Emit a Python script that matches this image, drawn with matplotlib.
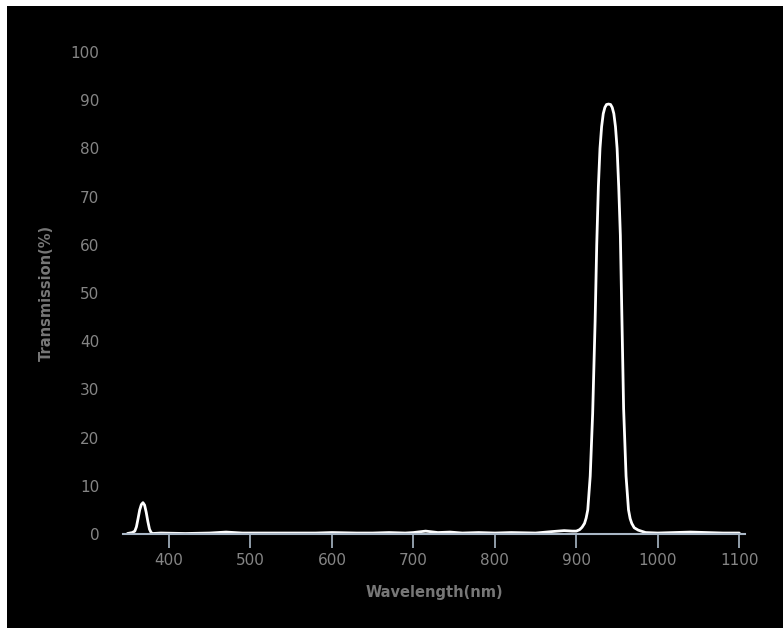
import matplotlib
matplotlib.use('Agg')
from matplotlib import pyplot as plt
from matplotlib.patches import Rectangle

# 透过率曲线数据
wavelength = [349, 355, 358, 360, 362, 364, 366, 368, 370, 372, 374, 376, 378, 380,
              390, 420, 450, 470, 490, 520, 550, 580, 600, 630, 650, 670, 690, 700,
              715, 730, 745, 760, 780, 800, 820, 850, 870, 885, 895, 900, 904, 907,
              910, 912, 914, 917, 920, 923, 925, 927, 929, 931, 933, 935, 937, 939.5,
              942, 944, 946, 948, 950, 952, 954, 956, 958, 961, 964, 966, 968, 971,
              976, 985, 1000, 1020, 1040, 1060, 1080, 1100]
transmission = [0.1, 0.3, 0.6, 1.5, 3.2, 5.0, 6.1, 6.5, 6.0, 4.5, 2.6, 1.0, 0.3, 0.1,
                0.2, 0.1, 0.2, 0.4, 0.2, 0.2, 0.2, 0.2, 0.3, 0.2, 0.2, 0.3, 0.2, 0.3,
                0.6, 0.3, 0.4, 0.2, 0.3, 0.2, 0.3, 0.2, 0.5, 0.7, 0.6, 0.6, 0.9, 1.4,
                2.2, 3.3, 5.0, 12.0, 25.0, 44.0, 60.0, 72.0, 80.0, 84.5, 87.2, 88.5, 89.1, 89.2,
                89.1, 88.5, 87.2, 84.5, 80.0, 72.0, 62.0, 44.0, 26.0, 12.0, 5.0, 3.2, 2.2, 1.3,
                0.8, 0.3, 0.2, 0.3, 0.4, 0.3, 0.2, 0.2]
xticks = [400, 500, 600, 700, 800, 900, 1000, 1100]
yticks = [0, 10, 20, 30, 40, 50, 60, 70, 80, 90, 100]

W, H = 783, 628
fig = plt.figure(figsize=(W / 100, H / 100), dpi=100, facecolor='white')
# 黑色背景区域（放在坐标轴下面）
fig.patches.append(Rectangle((7 / W, 0), 1 - 7 / W, 1 - 6 / H, transform=fig.transFigure,
                             facecolor='black', edgecolor='none', zorder=-10))

ax = fig.add_axes([123 / W, (H - 534) / H, (745 - 123) / W, (534 - 52) / H])
ax.set_facecolor('black')
ax.plot(wavelength, transmission, color='white', linewidth=2.0, clip_on=False,
        solid_joinstyle='round', solid_capstyle='round')

ax.set_xlim(343.5, 1107)
ax.set_ylim(0, 100)
ax.set_xticks(xticks)
ax.set_yticks(yticks)

for s in ['top', 'right', 'left']:
    ax.spines[s].set_visible(False)
ax.spines['bottom'].set_color('#a9b7c6')
ax.spines['bottom'].set_linewidth(1.5)

ax.tick_params(axis='x', colors='#858585', length=10, width=1.2, labelsize=11,
               pad=4, color='#a9b7c6')
ax.tick_params(axis='y', colors='#858585', length=0, labelsize=11, pad=17)

ax.set_xlabel('Wavelength(nm)', color='#777777', fontsize=10.5, fontweight='bold', labelpad=12)
ax.set_ylabel('Transmission(%)', color='#777777', fontsize=10.5, fontweight='bold', labelpad=12)

plt.savefig('out.png', dpi=100, facecolor=fig.get_facecolor())
